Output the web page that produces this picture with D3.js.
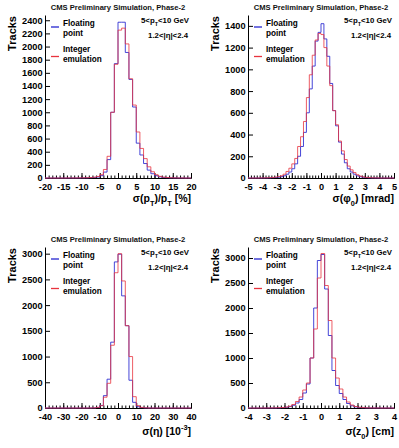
<!DOCTYPE html>
<html>
<head>
<meta charset="utf-8">
<script src="https://cdn.jsdelivr.net/npm/d3@7/dist/d3.min.js"></script>
<style>
  body { margin: 0; background: #fff; }
  svg text { font-family: "Liberation Sans", Arial, Helvetica, sans-serif; }
</style>
</head>
<body>
<svg id="chart" width="399" height="448"></svg>
<script>
// ---- data: track parameter resolutions, floating point vs integer emulation ----
// pT resolution [%], 40 bins from -20 to 20
const ptRange = [-20, 20];
const ptFloat = [0, 0, 0, 0, 0, 0, 0, 1, 1, 1, 2, 3, 5, 9, 16, 35, 90, 280, 1000, 1740,
                 2370, 2370, 1910, 1500, 1080, 530, 350, 220, 120, 65, 35, 18, 9, 5, 3, 2, 1, 1, 0, 0];
const ptInt = [0, 0, 0, 0, 0, 0, 1, 1, 1, 2, 3, 4, 7, 12, 22, 50, 130, 330, 1000, 1730,
               2250, 2280, 2040, 1510, 1110, 700, 450, 295, 170, 95, 50, 25, 13, 7, 4, 2, 1, 1, 0, 0];

// phi0 resolution [mrad], 50 bins from -5 to 5
const phiRange = [-5, 5];
const phiFloat = [0, 0, 0, 0, 0, 1, 1, 2, 3, 5, 8, 12, 20, 35, 55, 85, 130, 200, 290, 420,
                  600, 820, 1030, 1260, 1340, 1420, 1280, 1120, 870, 620, 480, 330, 220, 140, 85,
                  55, 35, 20, 12, 7, 4, 2, 1, 1, 0, 0, 0, 0, 0, 0];
const phiInt = [0, 0, 0, 0, 1, 1, 2, 3, 5, 8, 12, 20, 35, 60, 90, 130, 180, 290, 380, 520,
                740, 950, 1130, 1270, 1330, 1320, 1200, 1030, 850, 620, 490, 340, 250, 170, 110,
                75, 50, 30, 18, 10, 6, 4, 2, 1, 1, 0, 0, 0, 0, 0];

// eta resolution [10^-3], 40 bins from -40 to 40
const etaRange = [-40, 40];
const etaFloat = [0, 0, 0, 0, 0, 0, 0, 0, 0, 0, 0, 0, 1, 3, 10, 50, 240, 560, 1280, 2840,
                  2990, 2180, 1600, 540, 110, 25, 8, 3, 1, 0, 0, 0, 0, 0, 0, 0, 0, 0, 0, 0];
const etaInt = [0, 0, 0, 0, 0, 0, 0, 0, 0, 0, 0, 0, 1, 3, 12, 45, 210, 480, 1220, 2630,
                3000, 2470, 1600, 1000, 220, 45, 12, 4, 1, 0, 0, 0, 0, 0, 0, 0, 0, 0, 0, 0];

// z0 resolution [cm], 40 bins from -4 to 4
const z0Range = [-4, 4];
const z0Float = [0, 0, 0, 0, 0, 1, 1, 2, 4, 7, 14, 28, 55, 100, 170, 300, 480, 1000, 2000, 2950,
                 3070, 2380, 1450, 750, 450, 290, 170, 90, 45, 22, 11, 6, 3, 2, 1, 1, 0, 0, 0, 0];
const z0Int = [0, 0, 0, 0, 1, 1, 2, 3, 6, 10, 18, 35, 70, 130, 220, 360, 500, 1000, 1580, 2600,
               3090, 2450, 1750, 1000, 600, 380, 220, 120, 60, 30, 15, 8, 4, 2, 1, 1, 0, 0, 0, 0];

const titleText = "CMS Preliminary Simulation, Phase-2";
const legendLabels = [["Floating", "point"], ["Integer", "emulation"]];

// panel setup (frame boxes in px, axis ranges and ticks)
const panels = [
  { box: [45, 15, 191, 178], range: ptRange, float: ptFloat, int: ptInt, yMax: 2480,
    yStep: 200, yTop: 2400, xMajor: 5, xMinor: 1,
    xTitle: [["σ(p", 0], ["T", 1], [")/p", 0], ["T", 1], [" [%]", 0]] },
  { box: [248, 15, 394, 178], range: phiRange, float: phiFloat, int: phiInt, yMax: 1500,
    yStep: 200, yTop: 1400, xMajor: 1, xMinor: 0.2,
    xTitle: [["σ(φ", 0], ["0", 1], [") [mrad]", 0]] },
  { box: [45, 247, 191, 408], range: etaRange, float: etaFloat, int: etaInt, yMax: 3130,
    yStep: 500, yTop: 3000, xMajor: 10, xMinor: 2,
    xTitle: [["σ(η) [10", 0], ["-3", -1], ["]", 0]] },
  { box: [248, 247, 394, 408], range: z0Range, float: z0Float, int: z0Int, yMax: 3220,
    yStep: 500, yTop: 3000, xMajor: 1, xMinor: 0.2,
    xTitle: [["σ(z", 0], ["0", 1], [") [cm]", 0]] }
];

const blue = "#2626d0";
const red = "#e8343e";

const svg = d3.select("#chart");

// adds tspans with sub/superscripts to a text selection
function richText(sel, parts, size) {
  let shift = 0;
  parts.forEach(([t, s]) => {
    const off = s === 1 ? size * 0.35 : s === -1 ? -size * 0.45 : 0;
    sel.append("tspan")
      .attr("dy", off - shift)
      .attr("font-size", s === 0 ? size : size * 0.7)
      .text(t);
    shift = off;
  });
}

// integer-stepped range to avoid float drift
function steps(lo, hi, step) {
  const n = Math.round((hi - lo) / step);
  return d3.range(n + 1).map((i) => +(lo + i * step).toFixed(6));
}

const fmt = (d) => (d < 0 ? "-" : "") + Math.abs(Math.round(d));

panels.forEach((p) => {
  const [x0, y0, x1, y1] = p.box;
  const g = svg.append("g");

  const x = d3.scaleLinear().domain(p.range).range([x0, x1]);
  const y = d3.scaleLinear().domain([0, p.yMax]).range([y1, y0]);

  // title
  g.append("text")
    .attr("x", (x0 + x1) / 2)
    .attr("y", y0 - 5)
    .attr("text-anchor", "middle")
    .attr("font-size", 7.6)
    .attr("font-weight", "bold")
    .attr("fill", "#111")
    .text(titleText);

  // histograms
  const nb = p.float.length;
  const bw = (p.range[1] - p.range[0]) / nb;
  const line = d3.line().x((d) => x(d[0])).y((d) => y(d[1])).curve(d3.curveStepAfter);
  function histPts(vals) {
    const pts = [[p.range[0], 0]];
    vals.forEach((v, i) => pts.push([p.range[0] + i * bw, v]));
    pts.push([p.range[1], vals[nb - 1]]);
    pts.push([p.range[1], 0]);
    return pts;
  }

  // axes
  const yAxis = d3.axisLeft(y)
    .tickValues(steps(0, p.yTop, p.yStep))
    .tickSizeInner(-5).tickSizeOuter(0).tickPadding(2.5)
    .tickFormat(fmt);
  const yg = g.append("g").attr("transform", `translate(${x0},0)`).call(yAxis);

  const xMinorAxis = d3.axisBottom(x)
    .tickValues(steps(p.range[0], p.range[1], p.xMinor))
    .tickSizeInner(-2.5).tickSizeOuter(0).tickFormat("");
  g.append("g").attr("transform", `translate(0,${y1})`).call(xMinorAxis);

  const xAxis = d3.axisBottom(x)
    .tickValues(steps(p.range[0], p.range[1], p.xMajor))
    .tickSizeInner(-5).tickSizeOuter(0).tickPadding(5.5)
    .tickFormat(fmt);
  const xg = g.append("g").attr("transform", `translate(0,${y1})`).call(xAxis);

  [yg, xg].forEach((a) => {
    a.selectAll("text")
      .attr("font-size", 9.2)
      .attr("font-weight", "bold")
      .attr("fill", "#000")
      .style("font-family", '"Liberation Sans", Arial, sans-serif');
    a.select(".domain").attr("stroke", "#000");
  });

  g.append("path")
    .attr("d", line(histPts(p.float)))
    .attr("fill", "none")
    .attr("stroke", blue)
    .attr("stroke-opacity", 0.85)
    .attr("stroke-width", 1);
  g.append("path")
    .attr("d", line(histPts(p.int)))
    .attr("fill", "none")
    .attr("stroke", red)
    .attr("stroke-opacity", 0.8)
    .attr("stroke-width", 1);

  // axis titles
  g.append("text")
    .attr("transform", `translate(${x0 - 29},${y0 + 1}) rotate(-90)`)
    .attr("text-anchor", "end")
    .attr("font-size", 11)
    .attr("font-weight", "bold")
    .text("Tracks");

  const xt = g.append("text")
    .attr("x", x1)
    .attr("y", y1 + (y0 > 100 ? 27 : 24))
    .attr("text-anchor", "end")
    .attr("font-weight", "bold");
  richText(xt, p.xTitle, 10.5);

  // legend
  const legendY = [[y0 + 8, y0 + 18.3, y0 + 12], [y0 + 34, y0 + 44.5, y0 + 41.5]];
  [blue, red].forEach((c, i) => {
    g.append("line")
      .attr("x1", x0 + 6).attr("x2", x0 + 14)
      .attr("y1", legendY[i][2]).attr("y2", legendY[i][2])
      .attr("stroke", c).attr("stroke-width", 1.3);
    legendLabels[i].forEach((t, j) => {
      g.append("text")
        .attr("x", x0 + 18)
        .attr("y", legendY[i][j])
        .attr("dy", "0.35em")
        .attr("font-size", 8.2)
        .attr("font-weight", "bold")
        .text(t);
    });
  });

  // kinematic selection labels
  const k1 = g.append("text")
    .attr("x", x1 - 2).attr("y", y0 + 8).attr("dy", "0.35em")
    .attr("text-anchor", "end").attr("font-size", 7.8).attr("font-weight", "bold");
  richText(k1, [["5<p", 0], ["T", 1], ["<10 GeV", 0]], 7.8);
  g.append("text")
    .attr("x", x1 - 3).attr("y", y0 + 20).attr("dy", "0.35em")
    .attr("text-anchor", "end").attr("font-size", 7.8).attr("font-weight", "bold")
    .text("1.2<|η|<2.4");
});
</script>
</body>
</html>
